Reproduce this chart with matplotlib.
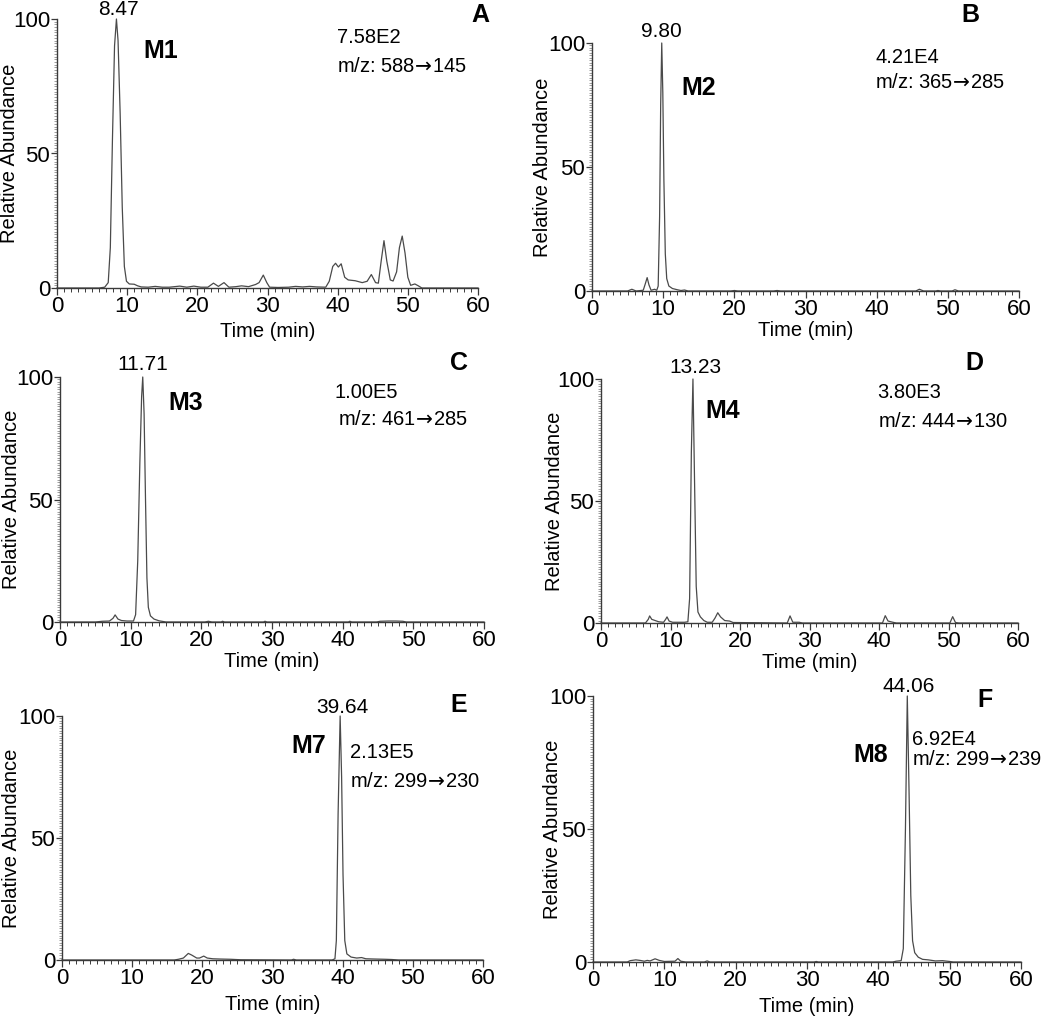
import matplotlib
matplotlib.use("Agg")
import matplotlib.pyplot as plt
from matplotlib.ticker import MultipleLocator

plt.rcParams['font.family'] = ['Liberation Sans', 'DejaVu Sans']
plt.rcParams['mathtext.fontset'] = 'dejavusans'

# ---------------- data ----------------
a_time = [0, 6.0, 6.8, 7.3, 7.6, 7.9, 8.2, 8.47, 8.7, 9.0, 9.3, 9.6, 9.9, 10.3, 11.0, 11.5, 12.0, 13.0,
          14.0, 15.0, 16.0, 17.5, 18.5, 19.5, 20.5, 21.5, 22.3, 23.0, 23.8, 24.5, 25.5, 26.3, 27.3, 28.3,
          28.8, 29.4, 29.9, 30.3, 31.5, 33.0, 34.0, 35.0, 36.0, 37.0, 38.3, 38.8, 39.3, 39.7, 40.1, 40.5,
          41.0, 41.5, 42.5, 43.5, 44.2, 44.8, 45.4, 45.8, 46.2, 46.6, 47.0, 47.5, 47.9, 48.4, 48.8, 49.2,
          49.6, 50.0, 50.4, 51.0, 51.5, 52.0, 60]
a_abund = [0, 0, 0.3, 2, 15, 55, 90, 100, 92, 65, 30, 8, 2.5, 1.5, 1.4, 0.8, 0.4, 0.3,
           0.6, 0.3, 0.3, 0.7, 0.3, 0.7, 0.3, 0.3, 1.8, 0.6, 2.0, 0.3, 0.5, 0.8, 0.5, 1.3,
           2.0, 4.8, 2.0, 0.3, 0.2, 0.3, 0.6, 0.4, 0.6, 0.4, 0.3, 2.5, 8.0, 9.2, 7.8, 9.0,
           4.0, 3.0, 2.7, 2.0, 2.5, 5.0, 2.0, 1.8, 10, 17.6, 10, 3.0, 2.6, 6, 15, 19.3,
           13, 4, 1.0, 1.5, 0.8, 0, 0]

b_time = [0, 5.0, 5.6, 6.2, 7.2, 7.5, 7.75, 8.0, 8.3, 8.8, 9.1, 9.3, 9.5, 9.65, 9.8, 9.95, 10.1, 10.3,
          10.5, 10.8, 11.3, 12.0, 12.5, 13.0, 13.5, 19.5, 20.0, 20.5, 25.5, 26.0, 26.5, 45.5, 46.0,
          46.6, 48.3, 48.6, 49.0, 50.6, 51.0, 51.5, 60]
b_abund = [0, 0, 0.7, 0, 0.3, 3, 5.4, 2.5, 0.3, 0.7, 0.3, 2, 30, 75, 100, 80, 45, 15,
           5, 2, 1.0, 0.5, 0.2, 0.4, 0, 0, 0.2, 0, 0, 0.2, 0, 0, 0.7,
           0, 0, 0.2, 0, 0, 0.5, 0, 0]

c_time = [0, 5.0, 6.0, 7.0, 7.5, 7.8, 8.2, 8.7, 9.5, 10.4, 10.7, 11.0, 11.3, 11.55, 11.71, 11.9, 12.1,
          12.3, 12.5, 12.8, 13.3, 14.0, 15.0, 20.5, 21.0, 21.5, 22.8, 23.0, 23.3, 28.8, 29.0, 29.3,
          40.8, 41.0, 41.3, 44.8, 45.3, 46.5, 47.5, 48.5, 49, 60]
c_abund = [0, 0, 0.3, 0.4, 1.5, 2.9, 1.2, 0.6, 0.4, 0.4, 3, 25, 65, 92, 100, 85, 50,
           18, 6, 2.5, 1.2, 0.5, 0, 0, 0.3, 0, 0, 0.3, 0, 0, 0.3, 0,
           0, 0.3, 0, 0, 0.3, 0.4, 0.4, 0.3, 0, 0]

d_time = [0, 6.4, 6.8, 7.0, 7.3, 7.8, 8.3, 9.0, 9.3, 9.5, 9.8, 10.3, 12.0, 12.5, 12.75, 13.0, 13.23,
          13.45, 13.7, 13.95, 14.3, 14.8, 15.3, 16.0, 16.4, 16.8, 17.2, 17.8, 18.5, 19.0, 26.8, 27.2,
          27.6, 28.5, 29.0, 40.5, 40.9, 41.3, 42, 42.5, 50.2, 50.6, 51.0, 51.5, 60]
d_abund = [0, 0, 1.5, 2.9, 1.5, 1.0, 0.5, 0.3, 1.5, 2.5, 0.8, 0.3, 0.3, 0.5, 10, 70, 100,
           60, 15, 4.5, 2.5, 1.0, 0.3, 0.3, 2, 4.2, 2.5, 1.0, 0.8, 0.2, 0, 2.9,
           0.3, 0.3, 0, 0, 3.0, 0.8, 0.3, 0, 0, 2.6, 0.2, 0, 0]

e_time = [0, 16.0, 16.6, 17.3, 18.0, 18.5, 19.2, 19.6, 20.2, 20.7, 21.5, 22.5, 24.0, 25.5, 32.7, 33.0,
          33.4, 38.5, 38.9, 39.1, 39.35, 39.64, 39.85, 40.05, 40.3, 40.6, 41.2, 42.0, 42.7, 43.3,
          44.5, 46, 47, 48, 60]
e_abund = [0, 0, 0.3, 0.8, 2.7, 2.0, 0.8, 0.8, 1.6, 0.8, 0.5, 0.4, 0.3, 0.1, 0, 0.3,
           0, 0, 0.5, 8, 60, 100, 75, 35, 8, 2.5, 1.2, 0.8, 1.0, 0.5,
           0.4, 0.3, 0.2, 0, 0]

f_time = [0, 4.8, 5.2, 6.0, 6.6, 7.2, 7.6, 8.0, 8.7, 9.3, 10.0, 11.5, 11.9, 12.3, 13, 15.6, 16.0, 16.4,
          31.0, 31.3, 31.6, 42.0, 42.5, 43.2, 43.5, 43.8, 44.06, 44.3, 44.55, 44.8, 45.1, 45.6, 46.2,
          47.0, 48.0, 49.0, 50.0, 50.5, 60]
f_abund = [0, 0, 0.5, 0.8, 0.6, 0.3, 0.6, 0.4, 1.2, 0.6, 0.2, 0.3, 1.3, 0.3, 0, 0, 0.4, 0,
           0, 0.2, 0, 0, 0.3, 0.5, 5, 50, 100, 65, 25, 8, 3.5, 1.8, 1.0,
           0.8, 0.4, 0.5, 0.2, 0, 0]

panel_letters = ['A', 'B', 'C', 'D', 'E', 'F']
metabolites = ['M1', 'M2', 'M3', 'M4', 'M7', 'M8']
peak_labels = ['8.47', '9.80', '11.71', '13.23', '39.64', '44.06']
intensities = ['7.58E2', '4.21E4', '1.00E5', '3.80E3', '2.13E5', '6.92E4']
transitions = [('588', '145'), ('365', '285'), ('461', '285'),
               ('444', '130'), ('299', '230'), ('299', '239')]
x_ticks = [0, 10, 20, 30, 40, 50, 60]
y_ticks = [0, 50, 100]

# ---------------- layout (pixel geometry of the reference) ----------------
W, H = 1050, 1016
# (left, right, y0 pixel, y100 pixel)
boxes = [(57, 478, 288, 19), (592, 1019, 291, 43),
         (60, 484, 622, 377), (601, 1018, 623, 379),
         (62, 483, 960, 716), (593, 1021, 962, 696)]
ylab_offset = [38, 40, 39, 37, 41, 31]          # px from axis to label anchor
xlab_base = [337, 336, 667, 668, 1010, 1012]     # baseline pixel of "Time (min)"

# text positions in data coords (baseline anchored)
peak_xy = [(8.7, 101.5), (9.7, 102.5), (11.7, 102.9), (13.6, 102.3), (39.9, 101.1), (44.3, 101.6)]
m_xy = [(12.3, 85.4), (12.5, 79.0), (15.3, 86.5), (15.0, 83.9), (32.7, 84.7), (36.5, 75.3)]
int_xy = [(39.9, 91.0), (39.8, 91.8), (38.9, 91.3), (39.8, 92.1), (41.0, 82.7), (44.7, 81.6)]
trn_xy = [(39.9, 80.4), (39.8, 81.7), (39.4, 80.4), (39.8, 80.5), (41.0, 71.0), (44.7, 74.1)]
let_xy = [(60.3, 99.0), (53.2, 108.6), (56.5, 102.9), (53.7, 103.7), (56.5, 101.8), (54.9, 96.0)]

series = [(a_time, a_abund), (b_time, b_abund), (c_time, c_abund),
          (d_time, d_abund), (e_time, e_abund), (f_time, f_abund)]

fig = plt.figure(figsize=(W / 100, H / 100), dpi=100)
axis_col = '#3a3a3a'
line_col = '#4a4a4a'

for i, (t, y) in enumerate(series):
    l, r, y0, y100 = boxes[i]
    ax = fig.add_axes([l / W, 1 - y0 / H, (r - l) / W, (y0 - y100) / H])
    ax.plot(t, y, color=line_col, lw=0.9, clip_on=False)
    ax.set_xlim(0, 60)
    ax.set_ylim(0, 100)
    for s in ['top', 'right']:
        ax.spines[s].set_visible(False)
    for s in ['left', 'bottom']:
        ax.spines[s].set_color(axis_col)
        ax.spines[s].set_linewidth(1.0)
    ax.set_xticks(x_ticks)
    ax.set_yticks(y_ticks)
    ax.xaxis.set_minor_locator(MultipleLocator(1))
    ax.yaxis.set_minor_locator(MultipleLocator(1))
    ax.tick_params(axis='x', which='major', direction='out', length=5, width=0.9,
                   color=axis_col, labelsize=16, pad=1)
    ax.tick_params(axis='y', which='major', direction='out', length=4, width=0.9,
                   color=axis_col, labelsize=16, pad=1)
    ax.tick_params(axis='x', which='minor', direction='out', length=3, width=0.7, color=axis_col)
    ax.tick_params(axis='y', which='minor', direction='out', length=2, width=0.5, color='#777777')
    ax.set_ylabel('Relative Abundance', fontsize=14.5)
    ax.yaxis.set_label_coords(-ylab_offset[i] / (r - l), 0.5)
    ax.set_xlabel('Time (min)', fontsize=14.5)
    ax.xaxis.set_label_coords(0.5, -(xlab_base[i] - y0) / (y0 - y100))
    ax.xaxis.label.set_va('baseline')

    ax.text(*peak_xy[i], peak_labels[i], fontsize=15, ha='center', va='baseline', clip_on=False)
    ax.text(*m_xy[i], metabolites[i], fontsize=18, fontweight='bold', ha='left', va='baseline',
            clip_on=False)
    ax.text(*int_xy[i], intensities[i], fontsize=14.5, ha='left', va='baseline', clip_on=False)
    src, dst = transitions[i]
    ax.text(*trn_xy[i], 'm/z: ' + src + r'$\!\rightarrow\!$' + dst, fontsize=14.5, ha='left',
            va='baseline', clip_on=False)
    ax.text(*let_xy[i], panel_letters[i], fontsize=18, fontweight='bold', ha='center',
            va='baseline', clip_on=False)

fig.savefig('out.png', dpi=100)
